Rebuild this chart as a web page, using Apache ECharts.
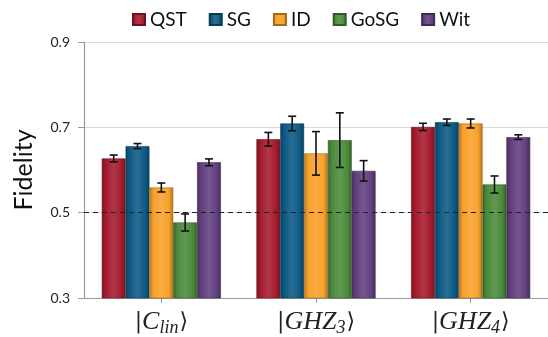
<!DOCTYPE html>
<html>
<head>
<meta charset="utf-8">
<script src="https://cdn.jsdelivr.net/npm/echarts@6/dist/echarts.min.js"></script>
<style>
  html, body { margin: 0; padding: 0; background: #fff; }
  #chart { width: 548px; height: 337px; }
</style>
</head>
<body>
<div id="chart"></div>
<script>
// Categories: quantum states (base symbol + subscript)
const categories = ['C_lin', 'GHZ_3', 'GHZ_4'];
const methods = ['QST', 'SG', 'ID', 'GoSG', 'Wit'];

// Fidelity per method and its error (half-width)
const qst     = [0.627, 0.672, 0.701];
const qstErr  = [0.008, 0.016, 0.0085];
const sg      = [0.656, 0.709, 0.712];
const sgErr   = [0.006, 0.017, 0.0075];
const id      = [0.559, 0.639, 0.709];
const idErr   = [0.0105, 0.051, 0.0105];
const gosg    = [0.477, 0.670, 0.566];
const gosgErr = [0.020, 0.064, 0.020];
const wit     = [0.618, 0.598, 0.677];
const witErr  = [0.008, 0.024, 0.0055];

const yTicks = [0.3, 0.5, 0.7, 0.9];
const threshold = 0.5;

const values = [qst, sg, id, gosg, wit];
const errors = [qstErr, sgErr, idErr, gosgErr, witErr];
const baseColors = ['#A51C2E', '#0E5A85', '#F8A12B', '#4B8B3B', '#62407F'];
const categoryGap = 0.23;

function shade(hex, f) {
  const n = parseInt(hex.slice(1), 16);
  let r = (n >> 16) & 255, g = (n >> 8) & 255, b = n & 255;
  const mix = f >= 0 ? 255 : 0, t = Math.abs(f);
  r = Math.round(r + (mix - r) * t);
  g = Math.round(g + (mix - g) * t);
  b = Math.round(b + (mix - b) * t);
  return 'rgb(' + r + ',' + g + ',' + b + ')';
}

function barFill(hex) {
  return new echarts.graphic.LinearGradient(0, 0, 1, 0, [
    { offset: 0, color: shade(hex, -0.25) },
    { offset: 0.18, color: hex },
    { offset: 0.5, color: shade(hex, 0.12) },
    { offset: 0.82, color: hex },
    { offset: 1, color: shade(hex, -0.3) }
  ]);
}

const barSeries = methods.map((name, k) => ({
  name: name,
  type: 'bar',
  data: values[k],
  barGap: '0%',
  barCategoryGap: (categoryGap * 100) + '%',
  itemStyle: {
    color: barFill(baseColors[k]),
    borderColor: shade(baseColors[k], -0.35),
    borderWidth: 0.6
  },
  z: 2
}));

barSeries[0].markLine = {
  silent: true,
  symbol: ['none', 'none'],
  label: { show: false },
  lineStyle: { type: [5, 4], color: '#222', width: 1 },
  data: [{ yAxis: threshold }],
  z: 5
};

// Error bars drawn on top of each bar
const errData = [];
methods.forEach((m, k) => {
  values[k].forEach((v, c) => errData.push([c, v, errors[k][c], k]));
});

const errSeries = {
  type: 'custom',
  name: 'errors',
  data: errData,
  z: 10,
  silent: true,
  encode: { x: 0, y: 1 },
  renderItem: function (params, api) {
    const c = api.value(0), v = api.value(1), e = api.value(2), k = api.value(3);
    const center = api.coord([c, v]);
    const band = api.size([1, 0])[0];
    const groupW = band * (1 - categoryGap);
    const bw = groupW / methods.length;
    const x = center[0] - groupW / 2 + bw * (k + 0.5);
    const yTop = api.coord([c, v + e])[1];
    const yBot = api.coord([c, v - e])[1];
    const cap = 4;
    const style = { stroke: '#111', lineWidth: 1.6 };
    return {
      type: 'group',
      children: [
        { type: 'line', shape: { x1: x, y1: yTop, x2: x, y2: yBot }, style: style },
        { type: 'line', shape: { x1: x - cap, y1: yTop, x2: x + cap, y2: yTop }, style: style },
        { type: 'line', shape: { x1: x - cap, y1: yBot, x2: x + cap, y2: yBot }, style: style }
      ]
    };
  }
};

const chart = echarts.init(document.getElementById('chart'), null, { renderer: 'canvas' });

chart.setOption({
  animation: false,
  backgroundColor: '#fff',
  legend: {
    data: methods,
    top: 5,
    left: 127,
    icon: 'rect',
    itemWidth: 12,
    itemHeight: 11,
    itemGap: 22,
    textStyle: { fontFamily: 'Lato', fontSize: 19, color: '#111' }
  },
  grid: { left: 84, right: -4, top: 42, bottom: 39 },
  xAxis: {
    type: 'category',
    data: categories,
    axisLine: { lineStyle: { color: '#9a9a9a', width: 1.2 } },
    axisTick: { show: true, alignWithLabel: true, length: 5, lineStyle: { color: '#9a9a9a' } },
    axisLabel: {
      margin: 9,
      formatter: function (val) {
        const parts = val.split('_');
        return '{n||}{i|' + parts[0] + '}{s|' + parts[1] + '}{n|\u27E9}';
      },
      rich: {
        n: { fontFamily: 'DejaVu Serif', fontSize: 22, color: '#222' },
        i: { fontFamily: 'Liberation Serif', fontStyle: 'italic', fontSize: 26, color: '#222' },
        s: { fontFamily: 'Liberation Serif', fontStyle: 'italic', fontSize: 18, color: '#222', padding: [12, 1, 0, 0] }
      }
    }
  },
  yAxis: {
    type: 'value',
    min: 0.3,
    max: 0.9,
    interval: 0.1,
    name: 'Fidelity',
    nameLocation: 'middle',
    nameGap: 48,
    nameTextStyle: { fontFamily: 'Lato', fontSize: 25, color: '#111' },
    axisLine: { show: true, lineStyle: { color: '#9a9a9a', width: 1.2 } },
    axisTick: { show: true, length: 6, customValues: yTicks, lineStyle: { color: '#9a9a9a' } },
    axisLabel: {
      customValues: yTicks,
      margin: 14,
      fontFamily: 'Lato',
      fontSize: 14,
      color: '#222',
      formatter: v => v.toFixed(1)
    },
    splitLine: { show: true, lineStyle: { color: '#d9d9d9', width: 1 } }
  },
  series: barSeries.concat([errSeries])
});
</script>
</body>
</html>
